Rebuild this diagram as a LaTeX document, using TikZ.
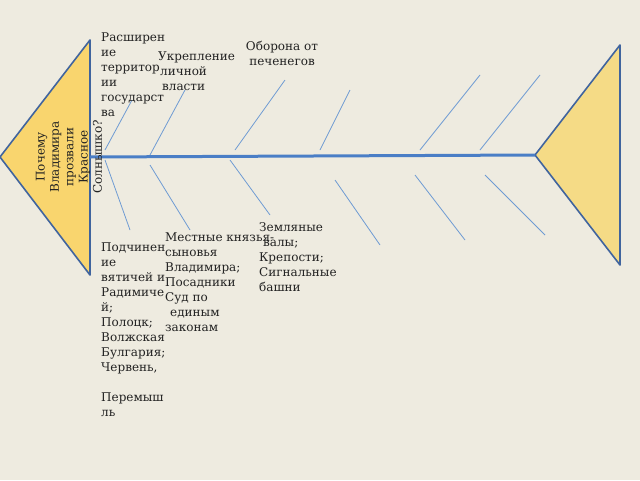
\documentclass[tikz,border=0pt]{standalone}
\usepackage{fontspec}
\setmainfont{DejaVu Serif}
\usepackage{xcolor}
\definecolor{paper}{HTML}{EEEBE0}
\definecolor{headfill}{HTML}{F9D56E}
\definecolor{tailfill}{HTML}{F5DB86}
\definecolor{edge}{HTML}{40649E}
\definecolor{spine}{HTML}{4A7EC6}
\definecolor{bone}{HTML}{6E9BD3}
\definecolor{ink}{HTML}{222222}
\usepackage{tikz}

\tikzset{
  label/.style={inner sep=0pt, anchor=north west, align=left, text=ink,
    font=\fontsize{12}{15}\selectfont},
  bone/.style={draw=bone, line width=0.8pt}
}

\begin{document}
\begin{tikzpicture}[x=1pt, y=-1pt]
  \fill[paper] (0,0) rectangle (640,480);
  \useasboundingbox (0,0) rectangle (640,480);

  % head and tail
  \filldraw[fill=headfill, draw=edge, line width=1.6pt, line join=round] (0,157) -- (90,40) -- (90,275) -- cycle;
  \filldraw[fill=tailfill, draw=edge, line width=1.6pt, line join=round] (535,155) -- (620,45) -- (620,265) -- cycle;
  \coordinate (head) at (90,157);
  \coordinate (tail) at (535,155);
  \draw[spine, line width=3pt] (head) -- (tail);

  % bones
  \foreach \a/\b/\c/\d in {105/150/132/100, 150/155/185/90, 235/150/285/80, 320/150/350/90,
      420/150/480/75, 480/150/540/75, 105/160/130/230, 150/165/190/230, 230/160/270/215,
      335/180/380/245, 415/175/465/240, 485/175/545/235} {
    \draw[bone] (\a,\b) -- (\c,\d);
  }

  \node[label, rotate=90, anchor=center, align=center, font=\fontsize{12}{14.3}\selectfont] (question) at (69,157)
    {Почему\\Владимира\\прозвали\\Красное\\Солнышко?};

  % causes (text top = baseline - cap height)
  \node[label] (land) at (101,32.2) {Расширен\\ие\\территор\\ии\\государст\\ва};
  \node[label] (power) at (158,51.2) {Укрепление\\\hspace{2pt}личной\\\hspace{4pt}власти};
  \node[label, align=center, anchor=north] (defence) at (282,41.2) {Оборона от\\печенегов};
  \node[label] (walls) at (259,222.2) {Земляные\\\hspace{4pt}валы;\\Крепости;\\Сигнальные\\башни};
  \node[label] (princes) at (165,232.2) {Местные князья-\\сыновья\\Владимира;\\Посадники\\Суд по\\\hspace{5pt}единым\\законам};
  \node[label] (tribes) at (101,242.2) {Подчинен\\ие\\вятичей и\\Радимиче\\й;\\Полоцк;\\Волжская\\Булгария;\\Червень,\\[15pt]Перемыш\\ль};
\end{tikzpicture}
\end{document}
